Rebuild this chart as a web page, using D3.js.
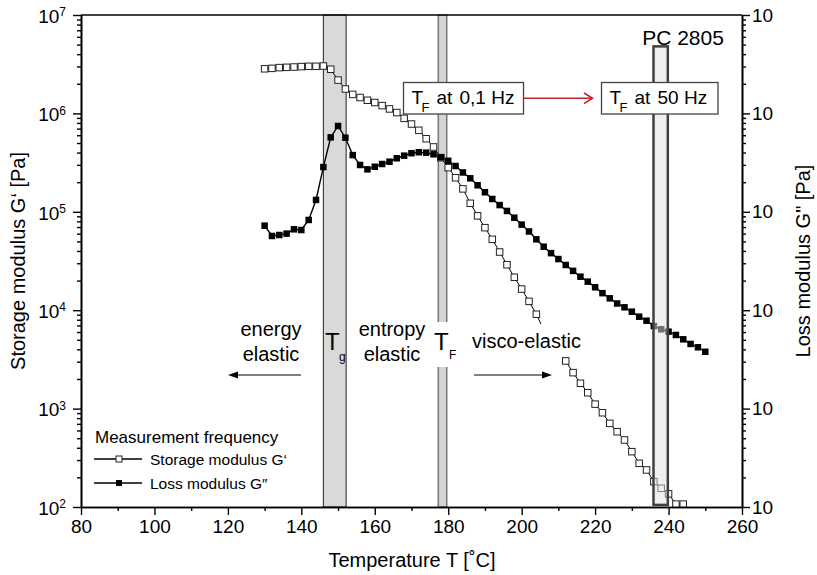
<!DOCTYPE html>
<html>
<head>
<meta charset="utf-8">
<script src="https://cdn.jsdelivr.net/npm/d3@7"></script>
<style>
body { margin: 0; background: #fff; }
text { font-family: "Liberation Sans", Arial, sans-serif; fill: #000; }
</style>
</head>
<body>
<div id="view"></div>
<script>
var width = 817, height = 575;

// temperatures [°C] of the measured points
var tempsStorage = [130,132,134,136,138,140,142,144,146,148,150,152,154,156,158,160,162,164,166,168,
	170,172,174,176,178,180,182,184,186,188,190,192,194,196,198,200,202,204,206,208,
	210,212,214,216,218,220,222,224,226,228,230,232,234,236,238,240,242,244];
var tempsLoss = [130,132,134,136,138,140,142,144,146,148,150,152,154,156,158,160,162,164,166,168,
	170,172,174,176,178,180,182,184,186,188,190,192,194,196,198,200,202,204,206,208,
	210,212,214,216,218,220,222,224,226,228,230,232,234,236,238,240,242,244,246,248,250];

// storage modulus G' [Pa]
var storageModulus = [2840000,2870000,2920000,2940000,2960000,2990000,3010000,3010000,3030000,2810000,
	2180000,1770000,1560000,1450000,1360000,1290000,1200000,1110000,1020000,890000,
	780000,673000,553000,456000,355000,281000,222000,171000,122000,91000,
	69000,52500,39000,29000,21600,16400,12300,9100,6300,5000,
	3900,3050,2320,1810,1450,1110,908,708,582,480,
	365,278,238,181,155,136,107,107];
// loss modulus G'' [Pa]
var lossModulus = [72300,56800,58100,60000,66400,65300,82600,132000,285000,571000,
	745000,566000,377000,299000,270000,287000,306000,323000,350000,372000,
	394000,403000,399000,384000,358000,330000,292000,251000,219000,186000,
	158000,135000,117000,102000,87100,74100,63100,52500,44200,38000,
	33100,28800,25100,21900,19500,17100,14900,13200,11700,10700,
	9660,8590,7820,6900,6400,6050,5600,5060,4540,4200,3780];

var xTicks = [80,100,120,140,160,180,200,220,240,260];
var xMinorTicks = [90,110,130,150,170,190,210,230,250];
var yTicks = [1e2,1e3,1e4,1e5,1e6,1e7];
var yExponents = ["2","3","4","5","6","7"];

// temperature ranges of the marked transitions
var tgRange = [146, 152.2];
var tfRange = [177.3, 179.6];
var pcRange = [235.9, 239.8];
var pcModulus = [105, 4800000];

var svg = d3.select("#view").append("svg")
	.attr("width", width)
	.attr("height", height);

var x = d3.scaleLinear().domain([80, 260]).range([81, 742]);
var y = d3.scaleLog().domain([1e2, 1e7]).range([507, 15]);

// Tg and TF bands (behind the curves)
svg.append("rect")
	.attr("x", x(tgRange[0])).attr("y", y(1e7))
	.attr("width", x(tgRange[1]) - x(tgRange[0]))
	.attr("height", y(1e2) - y(1e7))
	.style("fill", "#d9d9d9").style("stroke", "#222").style("stroke-width", 1);
svg.append("rect")
	.attr("x", x(tfRange[0])).attr("y", y(1e7))
	.attr("width", x(tfRange[1]) - x(tfRange[0]))
	.attr("height", y(1e2) - y(1e7))
	.style("fill", "#d4d4d4").style("stroke", "#777").style("stroke-width", 1.5);

// curves
var storagePts = tempsStorage.map(function(t, i) { return [t, storageModulus[i]]; });
var lossPts = tempsLoss.map(function(t, i) { return [t, lossModulus[i]]; });
var line = d3.line()
	.x(function(d) { return x(d[0]); })
	.y(function(d) { return y(d[1]); });

svg.append("path").datum(storagePts).attr("d", line)
	.style("fill", "none").style("stroke", "#000").style("stroke-width", 1);
svg.append("path").datum(lossPts).attr("d", line)
	.style("fill", "none").style("stroke", "#000").style("stroke-width", 1.4);

var ms = 6.5;
svg.selectAll(".storage")
	.data(storagePts).enter()
	.append("rect")
	.attr("class", "storage")
	.attr("x", function(d) { return x(d[0]) - ms / 2; })
	.attr("y", function(d) { return y(d[1]) - ms / 2; })
	.attr("width", ms).attr("height", ms)
	.style("fill", "#fff").style("stroke", "#222").style("stroke-width", 1);
svg.selectAll(".loss")
	.data(lossPts).enter()
	.append("rect")
	.attr("class", "loss")
	.attr("x", function(d) { return x(d[0]) - ms / 2; })
	.attr("y", function(d) { return y(d[1]) - ms / 2; })
	.attr("width", ms).attr("height", ms)
	.style("fill", "#000");

// white backgrounds of labels
svg.append("rect").attr("x", 468).attr("y", 324).attr("width", 120).attr("height", 33).style("fill", "#fff");
svg.append("rect").attr("x", 433).attr("y", 322).attr("width", 25).attr("height", 45).style("fill", "#fff");

// PC 2805 band (on top, translucent)
svg.append("rect")
	.attr("x", x(pcRange[0])).attr("y", y(pcModulus[1]))
	.attr("width", x(pcRange[1]) - x(pcRange[0]))
	.attr("height", y(pcModulus[0]) - y(pcModulus[1]))
	.style("fill", "#e0e0e0").style("fill-opacity", 0.5)
	.style("stroke", "#404040").style("stroke-width", 2.5);

// axes
function styleAxis(g) {
	g.select(".domain").style("stroke", "#000").style("stroke-width", 1.6);
	g.selectAll(".tick line").style("stroke", "#000").style("stroke-width", 1.4);
	g.selectAll("text").attr("font-size", 19).attr("font-family", null);
}
var yMinor = y.ticks().filter(function(v) { return yTicks.indexOf(v) < 0; });

svg.append("g").attr("transform", "translate(0,507)")
	.call(d3.axisBottom(x).tickValues(xMinorTicks).tickSize(4).tickSizeOuter(0).tickFormat(""))
	.call(styleAxis);
svg.append("g").attr("transform", "translate(0,507)")
	.call(d3.axisBottom(x).tickValues(xTicks).tickSize(8).tickSizeOuter(0).tickPadding(5))
	.call(styleAxis);

svg.append("g").attr("transform", "translate(81,0)")
	.call(d3.axisLeft(y).tickValues(yMinor).tickSize(4).tickSizeOuter(0).tickFormat(""))
	.call(styleAxis);
var gl = svg.append("g").attr("transform", "translate(81,0)")
	.call(d3.axisLeft(y).tickValues(yTicks).tickSize(8).tickSizeOuter(0).tickFormat(""))
	.call(styleAxis);
gl.selectAll(".tick text").remove();
gl.selectAll(".tick").append("text")
	.attr("x", -15).attr("dy", "0.38em")
	.attr("text-anchor", "end")
	.attr("font-size", 19)
	.each(function(d, i) {
		var t = d3.select(this);
		t.append("tspan").text("10");
		t.append("tspan").attr("dy", "-0.55em").attr("font-size", 12).text(yExponents[i]);
	});

svg.append("g").attr("transform", "translate(742,0)")
	.call(d3.axisRight(y).tickValues(yMinor).tickSize(4).tickSizeOuter(0).tickFormat(""))
	.call(styleAxis);
svg.append("g").attr("transform", "translate(742,0)")
	.call(d3.axisRight(y).tickValues(yTicks).tickSize(8).tickSizeOuter(0).tickPadding(2)
		.tickFormat(function() { return "10"; }))
	.call(styleAxis);

svg.append("line")
	.attr("x1", x(80)).attr("x2", x(260)).attr("y1", y(1e7)).attr("y2", y(1e7))
	.style("stroke", "#000").style("stroke-width", 1.6);

// axis titles
svg.append("text").attr("x", 412).attr("y", 567).attr("text-anchor", "middle")
	.attr("font-size", 20).text("Temperature T [˚C]");
svg.append("text").attr("transform", "translate(25,261) rotate(-90)").attr("text-anchor", "middle")
	.attr("font-size", 20).text("Storage modulus G‘ [Pa]");
svg.append("text").attr("transform", "translate(810,261) rotate(-90)").attr("text-anchor", "middle")
	.attr("font-size", 20).text("Loss modulus G\" [Pa]");

// legend
svg.append("text").attr("x", 95).attr("y", 443).attr("font-size", 17).text("Measurement frequency");
svg.append("line").attr("x1", 94).attr("x2", 142).attr("y1", 459).attr("y2", 459)
	.style("stroke", "#000").style("stroke-width", 1.5);
svg.append("rect").attr("x", 119 - 3).attr("y", 459 - 3).attr("width", 6).attr("height", 6)
	.style("fill", "#fff").style("stroke", "#222").style("stroke-width", 1);
svg.append("text").attr("x", 150).attr("y", 465).attr("font-size", 15.5).text("Storage modulus G‘");
svg.append("line").attr("x1", 94).attr("x2", 142).attr("y1", 483).attr("y2", 483)
	.style("stroke", "#000").style("stroke-width", 1.5);
svg.append("rect").attr("x", 119 - 3).attr("y", 483 - 3).attr("width", 6).attr("height", 6)
	.style("fill", "#000");
svg.append("text").attr("x", 150).attr("y", 489).attr("font-size", 15.5).text("Loss modulus G″");

// region annotations
function label(tx, ty, size, str, anchor) {
	return svg.append("text").attr("x", tx).attr("y", ty).attr("font-size", size)
		.attr("text-anchor", anchor || "start").text(str);
}
label(271, 336, 20, "energy", "middle");
label(271, 361, 20, "elastic", "middle");
label(392, 336, 20, "entropy", "middle");
label(392, 361, 20, "elastic", "middle");
label(472, 348, 20, "visco-elastic");
label(325, 350, 24, "T");
label(339, 361, 12, "g");
label(434, 350, 24, "T");
label(449, 359, 12, "F");

function arrow(x1, x2, ay) {
	var dir = x2 > x1 ? 1 : -1;
	svg.append("line").attr("x1", x1).attr("x2", x2 - dir * 8).attr("y1", ay).attr("y2", ay)
		.style("stroke", "#000").style("stroke-width", 1.2);
	svg.append("path")
		.attr("d", "M" + x2 + "," + ay + "L" + (x2 - dir * 10) + "," + (ay - 3.5) + "L" + (x2 - dir * 10) + "," + (ay + 3.5) + "Z")
		.style("fill", "#000");
}
arrow(301, 228, 375);
arrow(474, 552, 375);

// PC 2805 label
label(683, 45, 21, "PC 2805", "middle");

// TF boxes with red arrow
function tfBox(bx, bw, freq) {
	svg.append("rect").attr("x", bx).attr("y", 82.5).attr("width", bw).attr("height", 31.5)
		.style("fill", "#fff").style("stroke", "#444").style("stroke-width", 1.3);
	label(bx + 8, 104, 19, "T");
	label(bx + 18, 112, 13, "F");
	label(bx + 33, 104, 19, "at");
	label(bx + 56, 104, 19, freq);
}
tfBox(403.5, 120, "0,1  Hz");
tfBox(601.5, 116.5, "50 Hz");

svg.append("line").attr("x1", 523.5).attr("x2", 592).attr("y1", 98.3).attr("y2", 98.3)
	.style("stroke", "#c0282d").style("stroke-width", 1.6);
svg.append("path").attr("d", "M584,93L592.5,98.3L584,103.6")
	.style("fill", "none").style("stroke", "#c0282d").style("stroke-width", 1.6);
</script>
</body>
</html>
